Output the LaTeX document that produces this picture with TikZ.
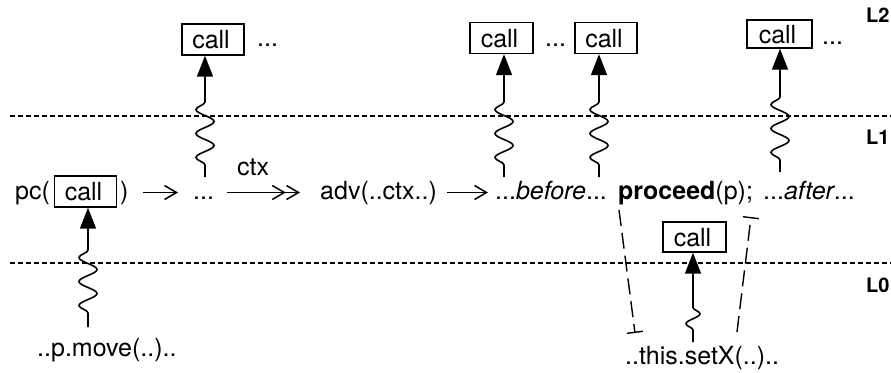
\documentclass[tikz,border=0pt]{standalone}
\usepackage{fontspec}
\setmainfont{TeX Gyre Heros}
\usetikzlibrary{arrows.meta,decorations.pathmorphing}
\begin{document}
\begin{tikzpicture}[x=1pt,y=-1pt,
  txt/.style={font=\fontsize{25}{29}\selectfont, inner sep=0pt, anchor=base west, text height=18pt, text depth=5pt},
  callbox/.style={draw, line width=1.4pt, font=\fontsize{25}{29}\selectfont, inner sep=0pt, minimum width=62pt, minimum height=31pt, text height=18pt, text depth=0pt},
  lvl/.style={font=\bfseries\fontsize{20}{22}\selectfont, inner sep=0pt, anchor=base west},
  level/.style={line width=1.3pt, dash pattern=on 5pt off 3pt},
  flow/.style={line width=1.5pt, -{Straight Barb[length=12pt,width=14pt]}},
  flow2/.style={line width=1.5pt, -{Straight Barb[length=12pt,width=14pt] Straight Barb[length=12pt,width=14pt]}},
  squig/.style={line width=1.6pt, -{Triangle[length=21pt,width=16pt]}, decorate, decoration={snake, amplitude=9pt, segment length=24pt, pre length=12pt, post length=38pt}},
  bardash/.style={line width=1.4pt, dash pattern=on 16pt off 7pt, -{Bar[width=16pt]}}
]
\useasboundingbox (0,0) rectangle (891,372);

% level separators
\coordinate (u1) at (10,116); \coordinate (u2) at (891,116);
\coordinate (w1) at (10,263); \coordinate (w2) at (891,263);
\draw[level] (u1) -- (u2);
\draw[level] (w1) -- (w2);
\node[lvl] (L2) at (866,23) {L2};
\node[lvl] (L1) at (866,144) {L1};
\node[lvl] (L0) at (866,292) {L0};

% main row
\node[txt] (pc) at (15,199) {pc(};
\node[callbox] (c0) at (85.5,191.5) {call\kern4pt};
\node[txt] (rp) at (120,199) {)};
\node[txt] (d1) at (193,199) {...};
\node[txt] (ctx) at (237,175) {ctx};
\node[txt] (adv) at (320,199) {adv(..ctx..)};
\node[txt] (bf) at (495,199) {...\textit{before}...};
\node[txt] (pr) at (618,199) {\textbf{proceed}(p);};
\node[txt] (af) at (763,199) {...\textit{after}...};

\draw[flow] ([xshift=14pt]rp.east) -- ([xshift=-15pt]d1.west);
\draw[flow2] ([xshift=13pt]d1.east) -- ([xshift=-20pt]adv.west);
\draw[flow] ([xshift=10pt]adv.east) -- ([xshift=-7pt]bf.west);

% top row
\node[callbox] (t1) at (213,39.5) {call\kern4pt};
\node[txt] (t1d) at (257,46) {...};
\node[callbox, minimum width=63pt] (t2) at (501.5,38) {call\kern4pt};
\node[txt] (t2d) at (545,46) {...};
\node[callbox] (t3) at (606,38) {call\kern4pt};
\node[callbox, minimum width=65pt, minimum height=28pt] (t4) at (779.5,34) {call\kern4pt};
\node[txt] (t4d) at (822,44) {...};

\coordinate (s1) at (205,177);
\coordinate (s2) at (504,177);
\coordinate (s3) at (599,177);
\coordinate (s4) at (780,172);
\draw[squig] (s1) -- (s1 |- t1.south);
\draw[squig] (s2) -- (s2 |- t2.south);
\draw[squig] (s3) -- (s3 |- t3.south);
\draw[squig] (s4) -- (s4 |- t4.south);

% bottom row
\node[txt] (mv) at (37,356) {..p.move(..)..};
\node[txt] (sx) at (625,364) {..this.setX(..)..};
\node[callbox, minimum width=63pt, minimum height=30pt] (b) at (694.5,237) {call\kern4pt};

\coordinate (s0) at (88,327);
\draw[squig, decoration={post length=32pt, pre length=14pt}] (s0) -- (s0 |- c0.south);
\coordinate (sb) at (693,342);
\draw[squig, decoration={amplitude=7pt, segment length=20pt, pre length=12pt, post length=47pt}] (sb) -- (sb |- b.south);

% dashed bars
\coordinate (dl1) at (619,210); \coordinate (dl2) at (635,333);
\draw[bardash] (dl1) -- (dl2);
\coordinate (dr1) at (737,332); \coordinate (dr2) at (751,217);
\draw[bardash] (dr1) -- (dr2);
\end{tikzpicture}
\end{document}
